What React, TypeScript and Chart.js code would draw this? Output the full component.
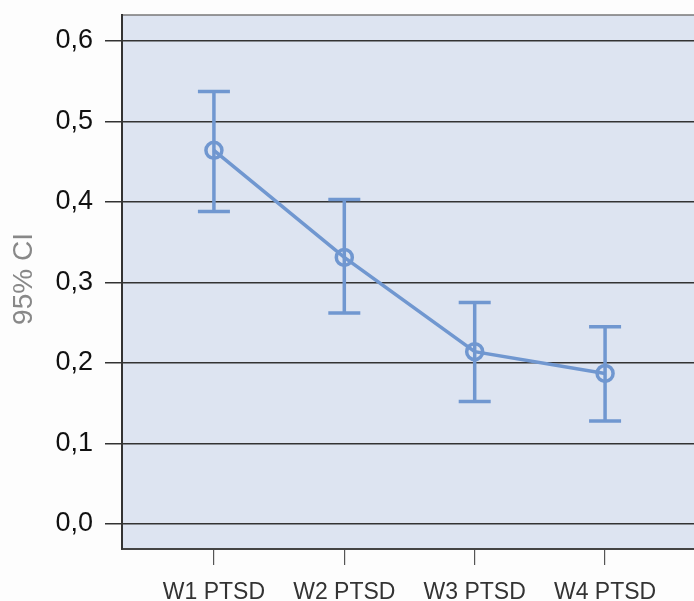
import React, { useEffect, useRef } from "react";
import { Chart, registerables } from "chart.js";

Chart.register(...registerables);

const categories = ["W1 PTSD", "W2 PTSD", "W3 PTSD", "W4 PTSD"];
const means = [0.464, 0.331, 0.214, 0.187];
const lowerCI = [0.388, 0.262, 0.152, 0.128];
const upperCI = [0.537, 0.403, 0.275, 0.245];
const yTicks = [0, 0.1, 0.2, 0.3, 0.4, 0.5, 0.6];
const yTitle = "95% CI";

const COLOR = "#7097d0";
const FONT = "'Liberation Sans', Arial, sans-serif";

const errorBarPlugin = {
  id: "errorBars",
  beforeDatasetsDraw(chart: any) {
    const { ctx, scales } = chart;
    const x = scales.x;
    const y = scales.y;
    ctx.save();
    ctx.strokeStyle = COLOR;
    ctx.lineWidth = 3.5;
    ctx.lineCap = "butt";
    for (let i = 0; i < means.length; i++) {
      const px = x.getPixelForValue(i);
      const yl = y.getPixelForValue(lowerCI[i]);
      const yu = y.getPixelForValue(upperCI[i]);
      ctx.beginPath();
      ctx.moveTo(px, yl);
      ctx.lineTo(px, yu);
      ctx.moveTo(px - 16, yl);
      ctx.lineTo(px + 16, yl);
      ctx.moveTo(px - 16, yu);
      ctx.lineTo(px + 16, yu);
      ctx.stroke();
    }
    ctx.restore();
  },
};

const bgPlugin = {
  id: "plotBg",
  beforeDraw(chart: any) {
    const { ctx, chartArea } = chart;
    ctx.save();
    ctx.fillStyle = "#fdfdfd";
    ctx.fillRect(0, 0, chart.width, chart.height);
    ctx.fillStyle = "#dde4f1";
    ctx.fillRect(chartArea.left, chartArea.top, chartArea.right - chartArea.left, chartArea.bottom - chartArea.top);
    ctx.strokeStyle = "#777";
    ctx.lineWidth = 1.5;
    ctx.beginPath();
    ctx.moveTo(chartArea.left, chartArea.top);
    ctx.lineTo(chartArea.right, chartArea.top);
    ctx.stroke();
    ctx.restore();
  },
  afterDraw(chart: any) {
    const { ctx } = chart;
    ctx.save();
    ctx.translate(24, 279);
    ctx.rotate(-Math.PI / 2);
    ctx.fillStyle = "#888";
    ctx.font = `28px ${FONT}`;
    ctx.textAlign = "center";
    ctx.textBaseline = "middle";
    ctx.fillText(yTitle, 0, 0);
    ctx.restore();
  },
};

const zeroPad = (s: any) => {
  s.paddingLeft = 0;
  s.paddingRight = 0;
  s.paddingTop = 0;
  s.paddingBottom = 0;
};

export default function App() {
  const ref = useRef<HTMLCanvasElement>(null);
  useEffect(() => {
    if (!ref.current) return;
    const chart = new Chart(ref.current, {
      type: "line",
      data: {
        datasets: [
          {
            data: means.map((m, i) => ({ x: i, y: m })),
            borderColor: COLOR,
            borderWidth: 3.5,
            backgroundColor: "rgba(0,0,0,0)",
            pointRadius: 8,
            pointBorderWidth: 3.5,
            pointBorderColor: COLOR,
            pointBackgroundColor: "rgba(0,0,0,0)",
            tension: 0,
          },
        ],
      },
      options: {
        animation: false,
        responsive: false,
        devicePixelRatio: 1,
        layout: { autoPadding: false, padding: { top: 15, right: 0, left: 0, bottom: 0 } },
        plugins: { legend: { display: false }, tooltip: { enabled: false } },
        scales: {
          x: {
            type: "linear",
            min: -0.705,
            max: 3.682,
            afterBuildTicks: (s: any) => {
              s.ticks = categories.map((_, i) => ({ value: i }));
            },
            afterFit: (s: any) => {
              s.height = 52;
              zeroPad(s);
            },
            ticks: {
              callback: (v: any) => categories[v] ?? "",
              color: "#333",
              font: { family: FONT, size: 23 },
              padding: 14,
              autoSkip: false,
              maxRotation: 0,
            },
            grid: {
              drawOnChartArea: false,
              drawTicks: true,
              tickLength: 16,
              color: "#555",
              lineWidth: 1.2,
            },
            border: { display: true, color: "#444", width: 2 },
          },
          y: {
            type: "linear",
            min: -0.031,
            max: 0.632,
            afterBuildTicks: (s: any) => {
              s.ticks = yTicks.map((v) => ({ value: v }));
            },
            afterFit: (s: any) => {
              s.width = 122;
              zeroPad(s);
            },
            ticks: {
              callback: (v: any) => Number(v).toFixed(1).replace(".", ","),
              color: "#111",
              font: { family: FONT, size: 27 },
              padding: 12,
            },
            grid: {
              color: "#333",
              lineWidth: 1.5,
              tickLength: 17,
            },
            border: { display: true, color: "#333", width: 2 },
          },
        },
      },
      plugins: [bgPlugin, errorBarPlugin],
    } as any);
    return () => chart.destroy();
  }, []);
  return (
    <div style={{ position: "fixed", left: 0, top: 0, width: 694, height: 601 }}>
      <canvas ref={ref} width={694} height={601} style={{ width: 694, height: 601 }} />
    </div>
  );
}
